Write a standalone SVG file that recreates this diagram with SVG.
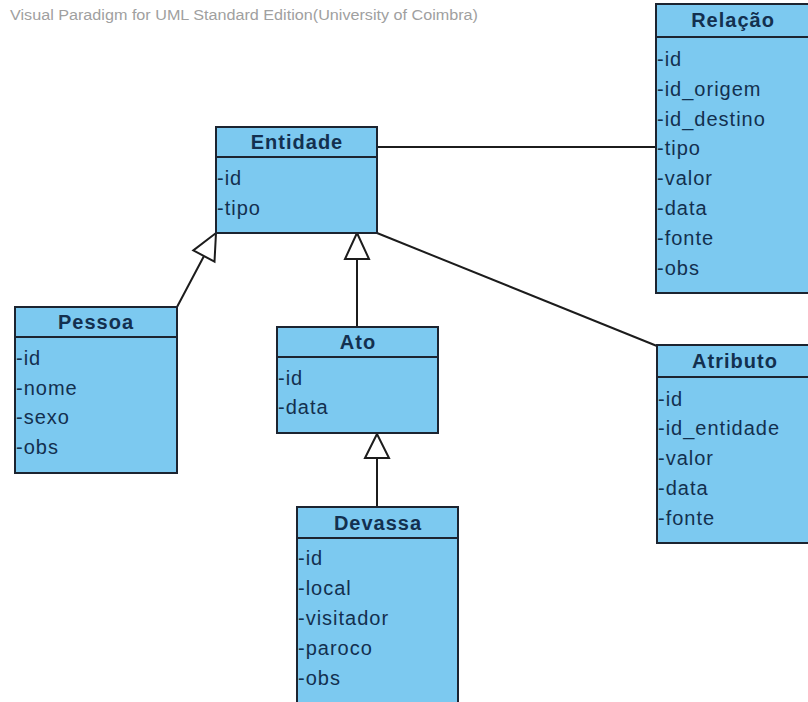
<svg xmlns="http://www.w3.org/2000/svg" width="808" height="702" viewBox="0 0 808 702">
<style>
.box{fill:#7CC9F0;stroke:#1C2430;stroke-width:2}
.div{stroke:#1C2430;stroke-width:2}
.title{font-family:"Liberation Sans",Arial,sans-serif;font-weight:bold;font-size:20px;fill:#13304F;text-anchor:middle;letter-spacing:1px}
.attr{font-family:"Liberation Sans",Arial,sans-serif;font-size:20px;fill:#13304F;letter-spacing:1px}
.line{stroke:#1C1C1C;stroke-width:2;fill:none}
.gen{fill:#FFFFFF;stroke:#1C1C1C;stroke-width:2}
.wm{font-family:"Liberation Sans",Arial,sans-serif;font-size:14px;fill:#A0A0A0}
</style>
<rect width="808" height="702" fill="#FFFFFF"/>
<text class="wm" x="10" y="20" textLength="468" lengthAdjust="spacingAndGlyphs">Visual Paradigm for UML Standard Edition(University of Coimbra)</text>

<g id="connectors">
  <line class="line" x1="377" y1="147" x2="656" y2="147"/>
  <line class="line" x1="377" y1="233" x2="657" y2="346"/>
  <line class="line" x1="177" y1="307" x2="204" y2="256"/>
  <polygon class="gen" points="216,233 214.5,261.6 193.3,250.4"/>
  <line class="line" x1="357" y1="327" x2="357" y2="259"/>
  <polygon class="gen" points="357,233 345,259 369,259"/>
  <line class="line" x1="377" y1="507" x2="377" y2="458"/>
  <polygon class="gen" points="377,434 365,458 389,458"/>
</g>

<g id="Entidade">
  <rect class="box" x="216" y="127" width="161" height="106"/>
  <line class="div" x1="216" y1="157" x2="377" y2="157"/>
  <text class="title" x="297" y="149">Entidade</text>
  <text class="attr" x="217" y="185">-id</text>
  <text class="attr" x="217" y="215">-tipo</text>
</g>

<g id="Relacao">
  <rect class="box" x="656" y="4" width="170" height="289"/>
  <line class="div" x1="656" y1="37" x2="826" y2="37"/>
  <text class="title" x="733" y="27">Relação</text>
  <text class="attr" x="657" y="66">-id</text>
  <text class="attr" x="657" y="96">-id_origem</text>
  <text class="attr" x="657" y="126">-id_destino</text>
  <text class="attr" x="657" y="155">-tipo</text>
  <text class="attr" x="657" y="185">-valor</text>
  <text class="attr" x="657" y="215">-data</text>
  <text class="attr" x="657" y="245">-fonte</text>
  <text class="attr" x="657" y="275">-obs</text>
</g>

<g id="Pessoa">
  <rect class="box" x="15" y="307" width="162" height="166"/>
  <line class="div" x1="15" y1="337" x2="177" y2="337"/>
  <text class="title" x="96" y="329">Pessoa</text>
  <text class="attr" x="16" y="365">-id</text>
  <text class="attr" x="16" y="395">-nome</text>
  <text class="attr" x="16" y="424">-sexo</text>
  <text class="attr" x="16" y="454">-obs</text>
</g>

<g id="Ato">
  <rect class="box" x="277" y="327" width="161" height="106"/>
  <line class="div" x1="277" y1="357" x2="438" y2="357"/>
  <text class="title" x="358" y="349">Ato</text>
  <text class="attr" x="278" y="385">-id</text>
  <text class="attr" x="278" y="414">-data</text>
</g>

<g id="Atributo">
  <rect class="box" x="657" y="345" width="170" height="198"/>
  <line class="div" x1="657" y1="377" x2="827" y2="377"/>
  <text class="title" x="735" y="368">Atributo</text>
  <text class="attr" x="658" y="406">-id</text>
  <text class="attr" x="658" y="435">-id_entidade</text>
  <text class="attr" x="658" y="465">-valor</text>
  <text class="attr" x="658" y="495">-data</text>
  <text class="attr" x="658" y="525">-fonte</text>
</g>

<g id="Devassa">
  <rect class="box" x="297" y="507" width="161" height="210"/>
  <line class="div" x1="297" y1="538" x2="458" y2="538"/>
  <text class="title" x="378" y="530">Devassa</text>
  <text class="attr" x="298" y="565">-id</text>
  <text class="attr" x="298" y="595">-local</text>
  <text class="attr" x="298" y="625">-visitador</text>
  <text class="attr" x="298" y="655">-paroco</text>
  <text class="attr" x="298" y="685">-obs</text>
</g>
</svg>
